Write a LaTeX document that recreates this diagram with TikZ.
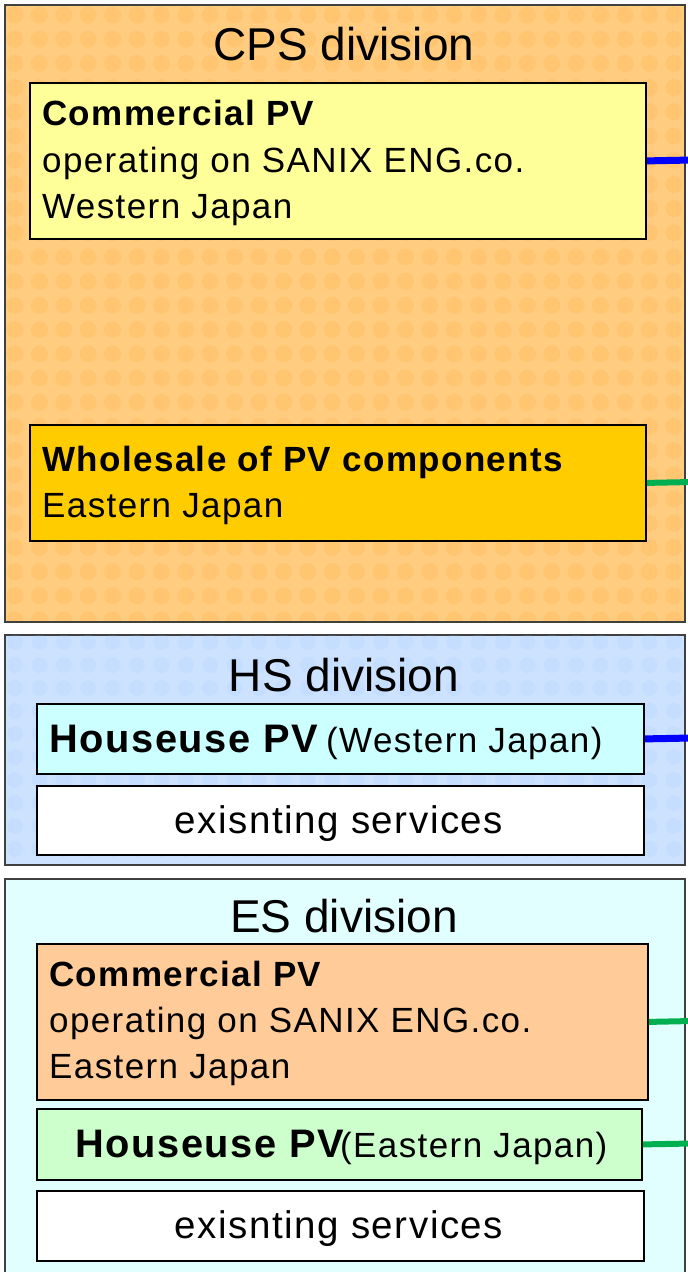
\documentclass[tikz,border=0pt]{standalone}
\usepackage{fontspec}
\setmainfont{Liberation Sans}
\newfontfamily\bxf{Liberation Sans}[LetterSpace=4]
\definecolor{cpsbg}{RGB}{255,204,128}
\definecolor{cpsdot}{RGB}{255,170,50}
\definecolor{hsbg}{RGB}{204,226,255}
\definecolor{hsdot}{RGB}{150,190,255}
\definecolor{esbg}{RGB}{226,255,255}
\definecolor{yel}{RGB}{255,255,153}
\definecolor{gold}{RGB}{255,204,0}
\definecolor{cyanbox}{RGB}{204,255,255}
\definecolor{peach}{RGB}{255,204,153}
\definecolor{mint}{RGB}{204,255,204}
\definecolor{lnkblue}{RGB}{0,0,255}
\definecolor{lnkgreen}{RGB}{0,176,80}
\begin{document}
\begin{tikzpicture}[x=1pt,y=-1pt,
  division/.style={draw=black!75, line width=2pt, anchor=north west, inner sep=0pt},
  unit/.style={draw=black, line width=1.8pt, anchor=north west, inner sep=0pt},
  ttl/.style={inner sep=0pt, anchor=base, font=\fontsize{46}{50}\selectfont},
  txt/.style={inner sep=0pt, anchor=base west, font=\bxf\fontsize{35}{47}\selectfont},
  bigtxt/.style={txt, font=\bxf\fontsize{38.5}{44}\selectfont},
  hutxt/.style={txt, font=\bxf\fontsize{39.8}{44}\selectfont},
  bluelink/.style={draw=lnkblue, line width=7pt},
  greenlink/.style={draw=lnkgreen, line width=6pt}]
\useasboundingbox (0,0) rectangle (688,1272);
\clip (0,0) rectangle (688,1272);
% divisions
\node[division, fill=cpsbg, minimum width=680pt, minimum height=617pt] (cps) at (4,4) {};
\begin{scope}
  \clip (5,5) rectangle (683,620);
  \foreach \i in {0,...,28} {\foreach \j in {0,...,25} {
    \fill[cpsdot, opacity=0.2] (15+24.4*\i, 15+24.2*\j) circle (8.5);
  }}
\end{scope}
\node[division, fill=hsbg, minimum width=680pt, minimum height=230pt] (hs) at (4,634) {};
\begin{scope}
  \clip (5,635) rectangle (683,863);
  \foreach \i in {0,...,28} {\foreach \j in {0,...,9} {
    \fill[hsdot, opacity=0.12] (15+24.4*\i, 642+23*\j) circle (8);
  }}
\end{scope}
\node[division, fill=esbg, minimum width=680pt, minimum height=420pt] (es) at (4,878) {};
% titles
\node[ttl] (cpsT) at (344,60) {CPS division};
\node[ttl] (hsT) at (344,691) {HS division};
\node[ttl] (esT) at (344,932) {ES division};
% CPS boxes
\node[unit, fill=yel, minimum width=616pt, minimum height=156pt] (cpw) at (29,82) {};
\node[txt] (cpw1) at (42,125) {\bfseries Commercial PV};
\node[txt] (cpw2) at (42,172) {operating on SANIX ENG.co.};
\node[txt] (cpw3) at (42,218) {Western Japan};
\node[unit, fill=gold, minimum width=616pt, minimum height=116pt] (whs) at (29,424) {};
\node[txt] (whs1) at (42,471) {\bfseries Wholesale of PV components};
\node[txt] (whs2) at (42,517) {Eastern Japan};
% HS boxes
\node[unit, fill=cyanbox, minimum width=607pt, minimum height=70pt] (hpw) at (36,703) {};
\node[hutxt] (hpw1) at (49,752) {\bfseries Houseuse PV};
\node[txt] (hpw2) at (326,752) {(Western Japan)};
\node[unit, fill=white, minimum width=607pt, minimum height=69pt] (hex) at (36,785) {};
\node[bigtxt, anchor=base] (hex1) at (339,833) {exisnting services};
% ES boxes
\node[unit, fill=peach, minimum width=611pt, minimum height=156pt] (epw) at (36,943) {};
\node[txt] (epw1) at (49,986) {\bfseries Commercial PV};
\node[txt] (epw2) at (49,1032) {operating on SANIX ENG.co.};
\node[txt] (epw3) at (49,1078) {Eastern Japan};
\node[unit, fill=mint, minimum width=605pt, minimum height=71pt] (hpe) at (36,1108) {};
\node[hutxt] (hpe1) at (75,1157) {\bfseries Houseuse PV};
\node[txt] (hpe2) at (340,1157) {(Eastern Japan)};
\node[unit, fill=white, minimum width=607pt, minimum height=70pt] (eex) at (36,1190) {};
\node[bigtxt, anchor=base] (eex1) at (339,1238) {exisnting services};
% link stubs
\coordinate (s1) at (692,160);
\coordinate (s2) at (692,482);
\coordinate (s3) at (692,738);
\coordinate (s4) at (692,1021);
\coordinate (s5) at (692,1143.5);
\draw[bluelink] (cpw.east) -- (s1);
\draw[greenlink] (whs.east) -- (s2);
\draw[bluelink] (hpw.east) -- (s3);
\draw[greenlink] (epw.east) -- (s4);
\draw[greenlink] (hpe.east) -- (s5);
\end{tikzpicture}
\end{document}
